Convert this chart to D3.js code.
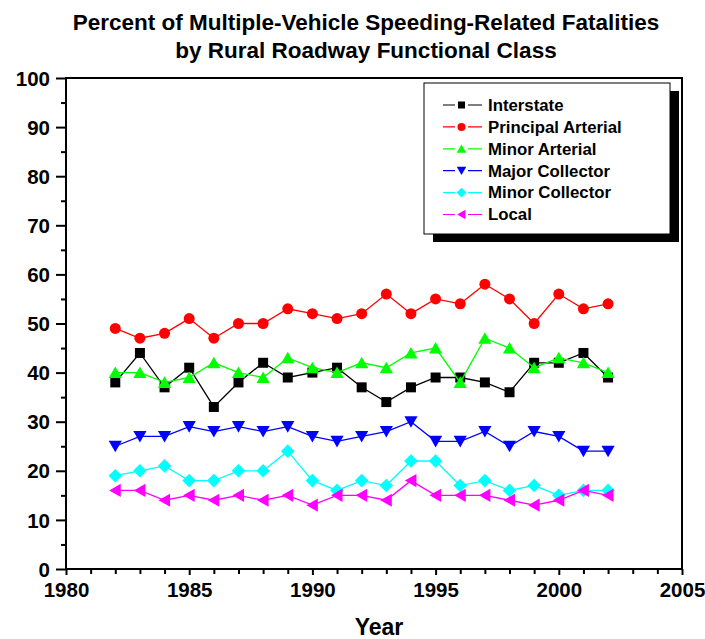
<!DOCTYPE html>
<html><head><meta charset="utf-8">
<script src="https://cdn.jsdelivr.net/npm/d3@7/dist/d3.min.js"></script>
<style>body{margin:0;background:#fff}svg{display:block;font-family:"Liberation Sans",Arial,sans-serif}</style>
</head><body>
<script>
const years = [1982,1983,1984,1985,1986,1987,1988,1989,1990,1991,1992,1993,1994,1995,1996,1997,1998,1999,2000,2001,2002];
const interstate = [38,44,37,41,33,38,42,39,40,41,37,34,37,39,39,38,36,42,42,44,39];
const principalArterial = [49,47,48,51,47,50,50,53,52,51,52,56,52,55,54,58,55,50,56,53,54];
const minorArterial = [40,40,38,39,42,40,39,43,41,40,42,41,44,45,38,47,45,41,43,42,40];
const majorCollector = [25,27,27,29,28,29,28,29,27,26,27,28,30,26,26,28,25,28,27,24,24];
const minorCollector = [19,20,21,18,18,20,20,24,18,16,18,17,22,22,17,18,16,17,15,16,16];
const local = [16,16,14,15,14,15,14,15,13,15,15,14,18,15,15,15,14,13,14,16,15];
const seriesNames = ["Interstate","Principal Arterial","Minor Arterial","Major Collector","Minor Collector","Local"];
const seriesColors = ["#000000","#ff0000","#00ff00","#0000ff","#00ffff","#ff00ff"];
const seriesShapes = ["square","circle","triUp","triDown","diamond","triLeft"];
const seriesValues = [interstate,principalArterial,minorArterial,majorCollector,minorCollector,local];
const xTicks = [1980,1985,1990,1995,2000,2005];
const yTicks = [0,10,20,30,40,50,60,70,80,90,100];
const titleLines = ["Percent of Multiple-Vehicle Speeding-Related Fatalities","by Rural Roadway Functional Class"];

const W=705,H=639;
const L=66,R=682,T=78,B=569;
const FONT="Liberation Sans, Arial, sans-serif";
const svg=d3.select("body").append("svg").attr("width",W).attr("height",H);
const x=d3.scaleLinear().domain([1980,2005]).range([L,R]);
const y=d3.scaleLinear().domain([0,100]).range([B,T]);

// title
svg.selectAll("text.title").data(titleLines).enter().append("text")
  .attr("x",366).attr("y",(d,i)=>30+i*28).attr("text-anchor","middle")
  .attr("font-size","22.5px").attr("font-weight","bold").text(d=>d);

// axes
const xAxis=svg.append("g").attr("transform",`translate(0,${B})`)
  .call(d3.axisBottom(x).tickValues(d3.range(1980,2006,1)).tickSize(5).tickFormat(""));
xAxis.selectAll(".tick line").attr("stroke-width",2).attr("y2",d=>d%5===0?6:5);
const xLab=svg.append("g").attr("transform",`translate(0,${B})`)
  .call(d3.axisBottom(x).tickValues(xTicks).tickSize(0).tickPadding(13).tickFormat(d3.format("d")));
xLab.select(".domain").remove();
xLab.selectAll("text").attr("font-size","20.5px").attr("font-weight","bold").attr("fill","#000").attr("font-family",FONT);

const yAxis=svg.append("g").attr("transform",`translate(${L},0)`)
  .call(d3.axisLeft(y).tickValues(yTicks).tickSize(10).tickPadding(6).tickFormat(d3.format("d")));
yAxis.selectAll(".tick line").attr("stroke-width",2);
yAxis.selectAll("text").attr("font-size","20.5px").attr("font-weight","bold").attr("fill","#000").attr("font-family",FONT).attr("dy","0.35em");
const yMinor=svg.append("g").attr("transform",`translate(${L},0)`)
  .call(d3.axisLeft(y).tickValues(d3.range(5,100,10)).tickSize(5).tickFormat(""));
yMinor.selectAll(".tick line").attr("stroke-width",2);
svg.selectAll(".domain").remove();

// frame
svg.append("rect").attr("x",L).attr("y",T).attr("width",R-L).attr("height",B-T)
  .attr("fill","none").attr("stroke","#000").attr("stroke-width",2);

svg.append("text").attr("x",(L+R)/2+5).attr("y",635).attr("text-anchor","middle")
  .attr("font-size","23px").attr("font-weight","bold").text("Year");

function symbolPath(shape,s){
  switch(shape){
    case "square": return `M${-s/2},${-s/2}h${s}v${s}h${-s}Z`;
    case "circle": return d3.symbol(d3.symbolCircle,Math.PI*(s/2)*(s/2))();
    case "triUp": return `M0,${-s*0.55}L${s*0.6},${s*0.5}L${-s*0.6},${s*0.5}Z`;
    case "triDown": return `M0,${s*0.55}L${s*0.6},${-s*0.5}L${-s*0.6},${-s*0.5}Z`;
    case "triLeft": return `M${-s*0.55},0L${s*0.5},${-s*0.6}L${s*0.5},${s*0.6}Z`;
    case "diamond": return `M0,${-s*0.62}L${s*0.62},0L0,${s*0.62}L${-s*0.62},0Z`;
  }
}
const sizes={square:10,circle:11,triUp:11,triDown:11,triLeft:11,diamond:11};

const line=d3.line().x((d,i)=>x(years[i])).y(d=>y(d));
seriesValues.forEach((vals,k)=>{
  const g=svg.append("g");
  g.append("path").datum(vals).attr("d",line).attr("fill","none").attr("stroke",seriesColors[k]).attr("stroke-width",1.3);
  g.selectAll("path.m").data(vals).enter().append("path").attr("class","m")
    .attr("transform",(d,i)=>`translate(${x(years[i])},${y(d)})`)
    .attr("d",symbolPath(seriesShapes[k],sizes[seriesShapes[k]]))
    .attr("fill",seriesColors[k]);
});

// legend
const lg=svg.append("g");
lg.append("rect").attr("x",433).attr("y",91).attr("width",246).attr("height",151).attr("fill","#000");
lg.append("rect").attr("x",424).attr("y",83).attr("width",246).attr("height",151).attr("fill","#fff").attr("stroke","#000").attr("stroke-width",1);
seriesNames.forEach((name,k)=>{
  const yy=105+k*21.9;
  lg.append("line").attr("x1",443).attr("x2",482).attr("y1",yy).attr("y2",yy).attr("stroke",seriesColors[k]).attr("stroke-width",1.2);
  lg.append("rect").attr("x",455).attr("y",yy-5).attr("width",13).attr("height",10).attr("fill","#fff");
  lg.append("path").attr("transform",`translate(461.5,${yy})`).attr("d",symbolPath(seriesShapes[k],seriesShapes[k]==="square"?7:8)).attr("fill",seriesColors[k]);
  lg.append("text").attr("x",488).attr("y",yy).attr("dy","0.35em").attr("font-size","16.8px").attr("font-weight","bold").text(name);
});
</script>
</body></html>
